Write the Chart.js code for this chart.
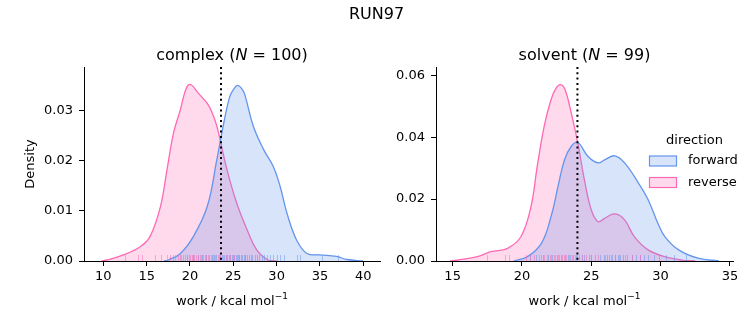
<!DOCTYPE html>
<html>
<head>
<meta charset="utf-8">
<script src="https://cdn.jsdelivr.net/npm/chart.js@4/dist/chart.umd.min.js"></script>
<style>
  body { margin: 0; background: #fff; }
  #wrap { position: relative; width: 753px; height: 325px; }
  canvas { position: absolute; left: 0; top: 0; }
</style>
</head>
<body>
<div id="wrap">
  <canvas id="complexChart" width="753" height="325"></canvas>
  <canvas id="solventChart" width="753" height="325"></canvas>
</div>
<script>
  // --- complex leg: KDE curves ---
  const complexFwdX = [17, 17.5, 18.9, 20.4, 22.0, 23.1, 23.9, 24.6, 25.1, 25.5, 25.9, 26.3, 27.3, 28.5, 29.6, 30.4, 31.2, 32.3, 33.5, 35.0, 36.9, 38.1, 40];
  const complexFwdY = [0, 0.0002, 0.0015, 0.0049, 0.0109, 0.0202, 0.0275, 0.0328, 0.0344, 0.0350, 0.0345, 0.0333, 0.0269, 0.0222, 0.0189, 0.0149, 0.0095, 0.0042, 0.0015, 0.0012, 0.0009, 0.0003, 0];
  const complexRevX = [9.8, 10.4, 12.3, 14.3, 15.4, 16.6, 17.35, 18.1, 18.9, 19.3, 19.65, 19.95, 20.3, 20.8, 21.4, 21.96, 22.5, 23.1, 24.27, 25.4, 26.6, 27.7, 29, 30];
  const complexRevY = [0, 0.0002, 0.0012, 0.0029, 0.0049, 0.0109, 0.0182, 0.0255, 0.0302, 0.0330, 0.0347, 0.0352, 0.0349, 0.0338, 0.0326, 0.0315, 0.0298, 0.0269, 0.0182, 0.0115, 0.0062, 0.0022, 0.0002, 0];
  const complexFwdRug = [20.3, 20.9, 21.4, 21.8, 22.2, 22.5, 22.8, 23.0, 23.3, 23.5, 23.7, 23.9, 24.1, 24.3, 24.5, 24.6, 24.8, 25.0, 25.1, 25.3, 25.4, 25.6, 25.7, 25.9, 26.0, 26.2, 26.4, 26.6, 26.8, 27.0, 27.2, 27.5, 27.7, 28.0, 28.3, 28.6, 28.9, 29.2, 29.6, 30.0, 30.4, 30.9, 32.4, 32.7, 35.2, 37.1];
  const complexRevRug = [12.5, 14.0, 14.5, 16.0, 16.6, 17.3, 17.7, 18.0, 18.3, 18.6, 18.8, 19.0, 19.2, 19.4, 19.6, 19.7, 19.9, 20.0, 20.2, 20.4, 20.5, 20.7, 20.9, 21.1, 21.3, 21.5, 21.7, 21.9, 22.1, 22.4, 22.6, 22.9, 23.2, 23.5, 23.8, 24.2, 24.6, 25.1, 25.7, 26.4];
  const complexMean = 23.58;
  const complexXTicks = [10, 15, 20, 25, 30, 35, 40];
  const complexYTicks = [0, 0.01, 0.02, 0.03];

  // --- solvent leg ---
  const solventFwdX = [19.4, 20.4, 21.4, 22.1, 22.6, 23.07, 23.55, 24.03, 24.76, 25.5, 25.96, 26.7, 27.4, 28.4, 29.1, 29.8, 30.3, 31.3, 32.7, 34.2];
  const solventFwdY = [0, 0.0014, 0.0057, 0.0144, 0.0241, 0.0327, 0.0370, 0.0383, 0.0338, 0.0317, 0.0327, 0.0340, 0.0317, 0.0252, 0.0198, 0.0122, 0.0079, 0.0036, 0.0009, 0];
  const solventRevX = [14.8, 15.3, 16.8, 17.75, 18.96, 19.93, 20.65, 21.1, 21.6, 22.1, 22.45, 22.78, 23.1, 23.55, 24.03, 24.5, 25.0, 25.5, 25.96, 26.7, 27.4, 28.1, 29.1, 30.3, 31.5, 32.5];
  const solventRevY = [0, 0.0003, 0.0014, 0.0030, 0.0041, 0.0079, 0.0176, 0.0306, 0.0435, 0.0522, 0.0558, 0.0570, 0.0555, 0.0479, 0.0381, 0.0263, 0.0165, 0.0127, 0.0138, 0.0152, 0.0133, 0.0079, 0.0036, 0.0014, 0.0003, 0];
  const solventFwdRug = [20.6, 21.0, 21.5, 21.9, 22.2, 22.5, 22.8, 23.1, 23.3, 23.5, 23.7, 23.9, 24.1, 24.3, 24.5, 24.8, 25.0, 25.3, 25.6, 25.9, 26.1, 26.3, 26.5, 26.7, 26.9, 27.1, 27.3, 27.6, 27.9, 28.2, 28.5, 28.8, 29.1, 29.5, 29.9, 30.4, 31.0, 31.8];
  const solventRevRug = [17.5, 18.8, 19.1, 20.3, 20.6, 20.9, 21.2, 21.4, 21.6, 21.8, 22.0, 22.1, 22.3, 22.4, 22.6, 22.7, 22.9, 23.0, 23.2, 23.4, 23.6, 23.8, 24.0, 24.3, 24.6, 25.0, 25.5, 26.0, 26.4, 26.7, 27.0, 27.4, 27.9, 28.5];
  const solventMean = 24.0;
  const solventXTicks = [15, 20, 25, 30, 35];
  const solventYTicks = [0, 0.02, 0.04, 0.06];

  const directions = ['forward', 'reverse'];
  const lineColors = ['rgb(100,149,237)', 'rgb(255,105,180)'];
  const fillColors = ['rgba(100,149,237,0.25)', 'rgba(255,105,180,0.25)'];
  const rugColors = ['rgba(100,149,237,0.5)', 'rgba(255,105,180,0.5)'];

  const FONT = 'DejaVu Sans';
  Chart.defaults.font.family = FONT;
  Chart.defaults.font.size = 13;
  Chart.defaults.color = '#000';

  const toPoints = (xs, ys) => xs.map((x, i) => ({ x: x, y: ys[i] }));

  // titles, rug ticks, mean line and legend drawn with the chart's scales
  const decoPlugin = {
    id: 'deco',
    afterDatasetsDraw(chart, args, opts) {
      const ctx = chart.ctx, area = chart.chartArea, xs = chart.scales.x;
      ctx.save();
      ctx.lineWidth = 1;
      opts.rugs.forEach((vals, k) => {
        ctx.strokeStyle = rugColors[k];
        vals.forEach(v => {
          const px = Math.round(xs.getPixelForValue(v)) + 0.5;
          ctx.beginPath();
          ctx.moveTo(px, area.bottom);
          ctx.lineTo(px, area.bottom - 6);
          ctx.stroke();
        });
      });
      const mx = xs.getPixelForValue(opts.mean);
      ctx.strokeStyle = '#000';
      ctx.lineWidth = 2;
      ctx.setLineDash([2, 3.3]);
      ctx.beginPath();
      ctx.moveTo(mx, area.top);
      ctx.lineTo(mx, area.bottom);
      ctx.stroke();
      ctx.restore();
    },
    afterDraw(chart, args, opts) {
      const ctx = chart.ctx, area = chart.chartArea;
      const cx = (area.left + area.right) / 2;
      ctx.save();
      ctx.fillStyle = '#000';
      ctx.textBaseline = 'alphabetic';

      // subplot title with italic N
      const parts = [[opts.name + ' (', 'normal'], ['N', 'italic'], [' = ' + opts.n + ')', 'normal']];
      let total = 0;
      parts.forEach(p => { ctx.font = p[1] + ' 16px "' + FONT + '"'; total += ctx.measureText(p[0]).width; });
      let x = cx - total / 2;
      ctx.textAlign = 'left';
      parts.forEach(p => {
        ctx.font = p[1] + ' 16px "' + FONT + '"';
        ctx.fillText(p[0], x, 60);
        x += ctx.measureText(p[0]).width;
      });

      // x axis label with superscript
      ctx.font = '13px "' + FONT + '"';
      const main = 'work / kcal mol';
      const w1 = ctx.measureText(main).width;
      ctx.font = '9px "' + FONT + '"';
      const sup = '\u22121';
      const w2 = ctx.measureText(sup).width;
      const lx = cx - (w1 + w2) / 2;
      ctx.font = '13px "' + FONT + '"';
      ctx.fillText(main, lx, 305);
      ctx.font = '9px "' + FONT + '"';
      ctx.fillText(sup, lx + w1, 299);

      if (opts.yLabel) {
        ctx.font = '13px "' + FONT + '"';
        ctx.translate(31, (area.top + area.bottom) / 2);
        ctx.rotate(-Math.PI / 2);
        ctx.textAlign = 'center';
        ctx.textBaseline = 'middle';
        ctx.fillText(opts.yLabel, 0, 0);
        ctx.setTransform(1, 0, 0, 1, 0, 0);
      }

      if (opts.suptitle) {
        ctx.font = '16px "' + FONT + '"';
        ctx.textAlign = 'center';
        ctx.textBaseline = 'alphabetic';
        ctx.fillText(opts.suptitle, 376.5, 19);
      }

      if (opts.legend) {
        ctx.font = '13px "' + FONT + '"';
        ctx.textAlign = 'center';
        ctx.textBaseline = 'middle';
        ctx.fillText('direction', 694.5, 141);
        ctx.textAlign = 'left';
        directions.forEach((d, k) => {
          const ty = 161 + k * 21.5;
          ctx.fillStyle = fillColors[k];
          ctx.fillRect(649.5, ty - 5, 27, 10);
          ctx.strokeStyle = lineColors[k];
          ctx.lineWidth = 1.2;
          ctx.strokeRect(649.5, ty - 5, 27, 10);
          ctx.fillStyle = '#000';
          ctx.fillText(d, 688, ty);
        });
      }
      ctx.restore();
    }
  };

  function makeChart(id, cfg) {
    const datasets = [cfg.fwd, cfg.rev].map((pts, k) => ({
      label: directions[k],
      data: pts,
      borderColor: lineColors[k],
      backgroundColor: fillColors[k],
      borderWidth: 1.3,
      fill: 'origin',
      pointRadius: 0,
      tension: 0.4
    }));
    const axis = {
      type: 'linear',
      border: { display: true, color: '#000', width: 1 },
      grid: { display: true, drawOnChartArea: false, drawTicks: true, tickLength: 5, color: '#000' }
    };
    return new Chart(document.getElementById(id), {
      type: 'line',
      data: { datasets: datasets },
      plugins: [decoPlugin],
      options: {
        responsive: false,
        animation: false,
        layout: { padding: cfg.padding },
        plugins: {
          legend: { display: false },
          tooltip: { enabled: false },
          deco: cfg.deco
        },
        scales: {
          x: Object.assign({}, axis, {
            min: cfg.xMin, max: cfg.xMax,
            afterBuildTicks: s => { s.ticks = cfg.xTicks.map(v => ({ value: v })); },
            afterFit: s => { s.height = 64; },
            ticks: { padding: 3, maxRotation: 0, callback: v => String(v) }
          }),
          y: Object.assign({}, axis, {
            min: 0, max: cfg.yMax,
            afterBuildTicks: s => { s.ticks = cfg.yTicks.map(v => ({ value: v })); },
            afterFit: s => { s.width = cfg.yWidth; },
            ticks: { padding: 6, callback: v => v.toFixed(2) }
          })
        }
      }
    });
  }

  makeChart('complexChart', {
    fwd: toPoints(complexFwdX, complexFwdY),
    rev: toPoints(complexRevX, complexRevY),
    xMin: 7.77, xMax: 41.93, yMax: 0.03866,
    xTicks: complexXTicks, yTicks: complexYTicks,
    yWidth: 84,
    padding: { left: 0, top: 67, right: 373, bottom: 0 },
    deco: { name: 'complex', n: 100, rugs: [complexFwdRug, complexRevRug], mean: complexMean,
            yLabel: 'Density', suptitle: 'RUN97', legend: false }
  });

  makeChart('solventChart', {
    fwd: toPoints(solventFwdX, solventFwdY),
    rev: toPoints(solventRevX, solventRevY),
    xMin: 13.8, xMax: 35.22, yMax: 0.0627,
    xTicks: solventXTicks, yTicks: solventYTicks,
    yWidth: 436,
    padding: { left: 0, top: 67, right: 20, bottom: 0 },
    deco: { name: 'solvent', n: 99, rugs: [solventFwdRug, solventRevRug], mean: solventMean,
            yLabel: null, suptitle: null, legend: true }
  });
</script>
</body>
</html>
